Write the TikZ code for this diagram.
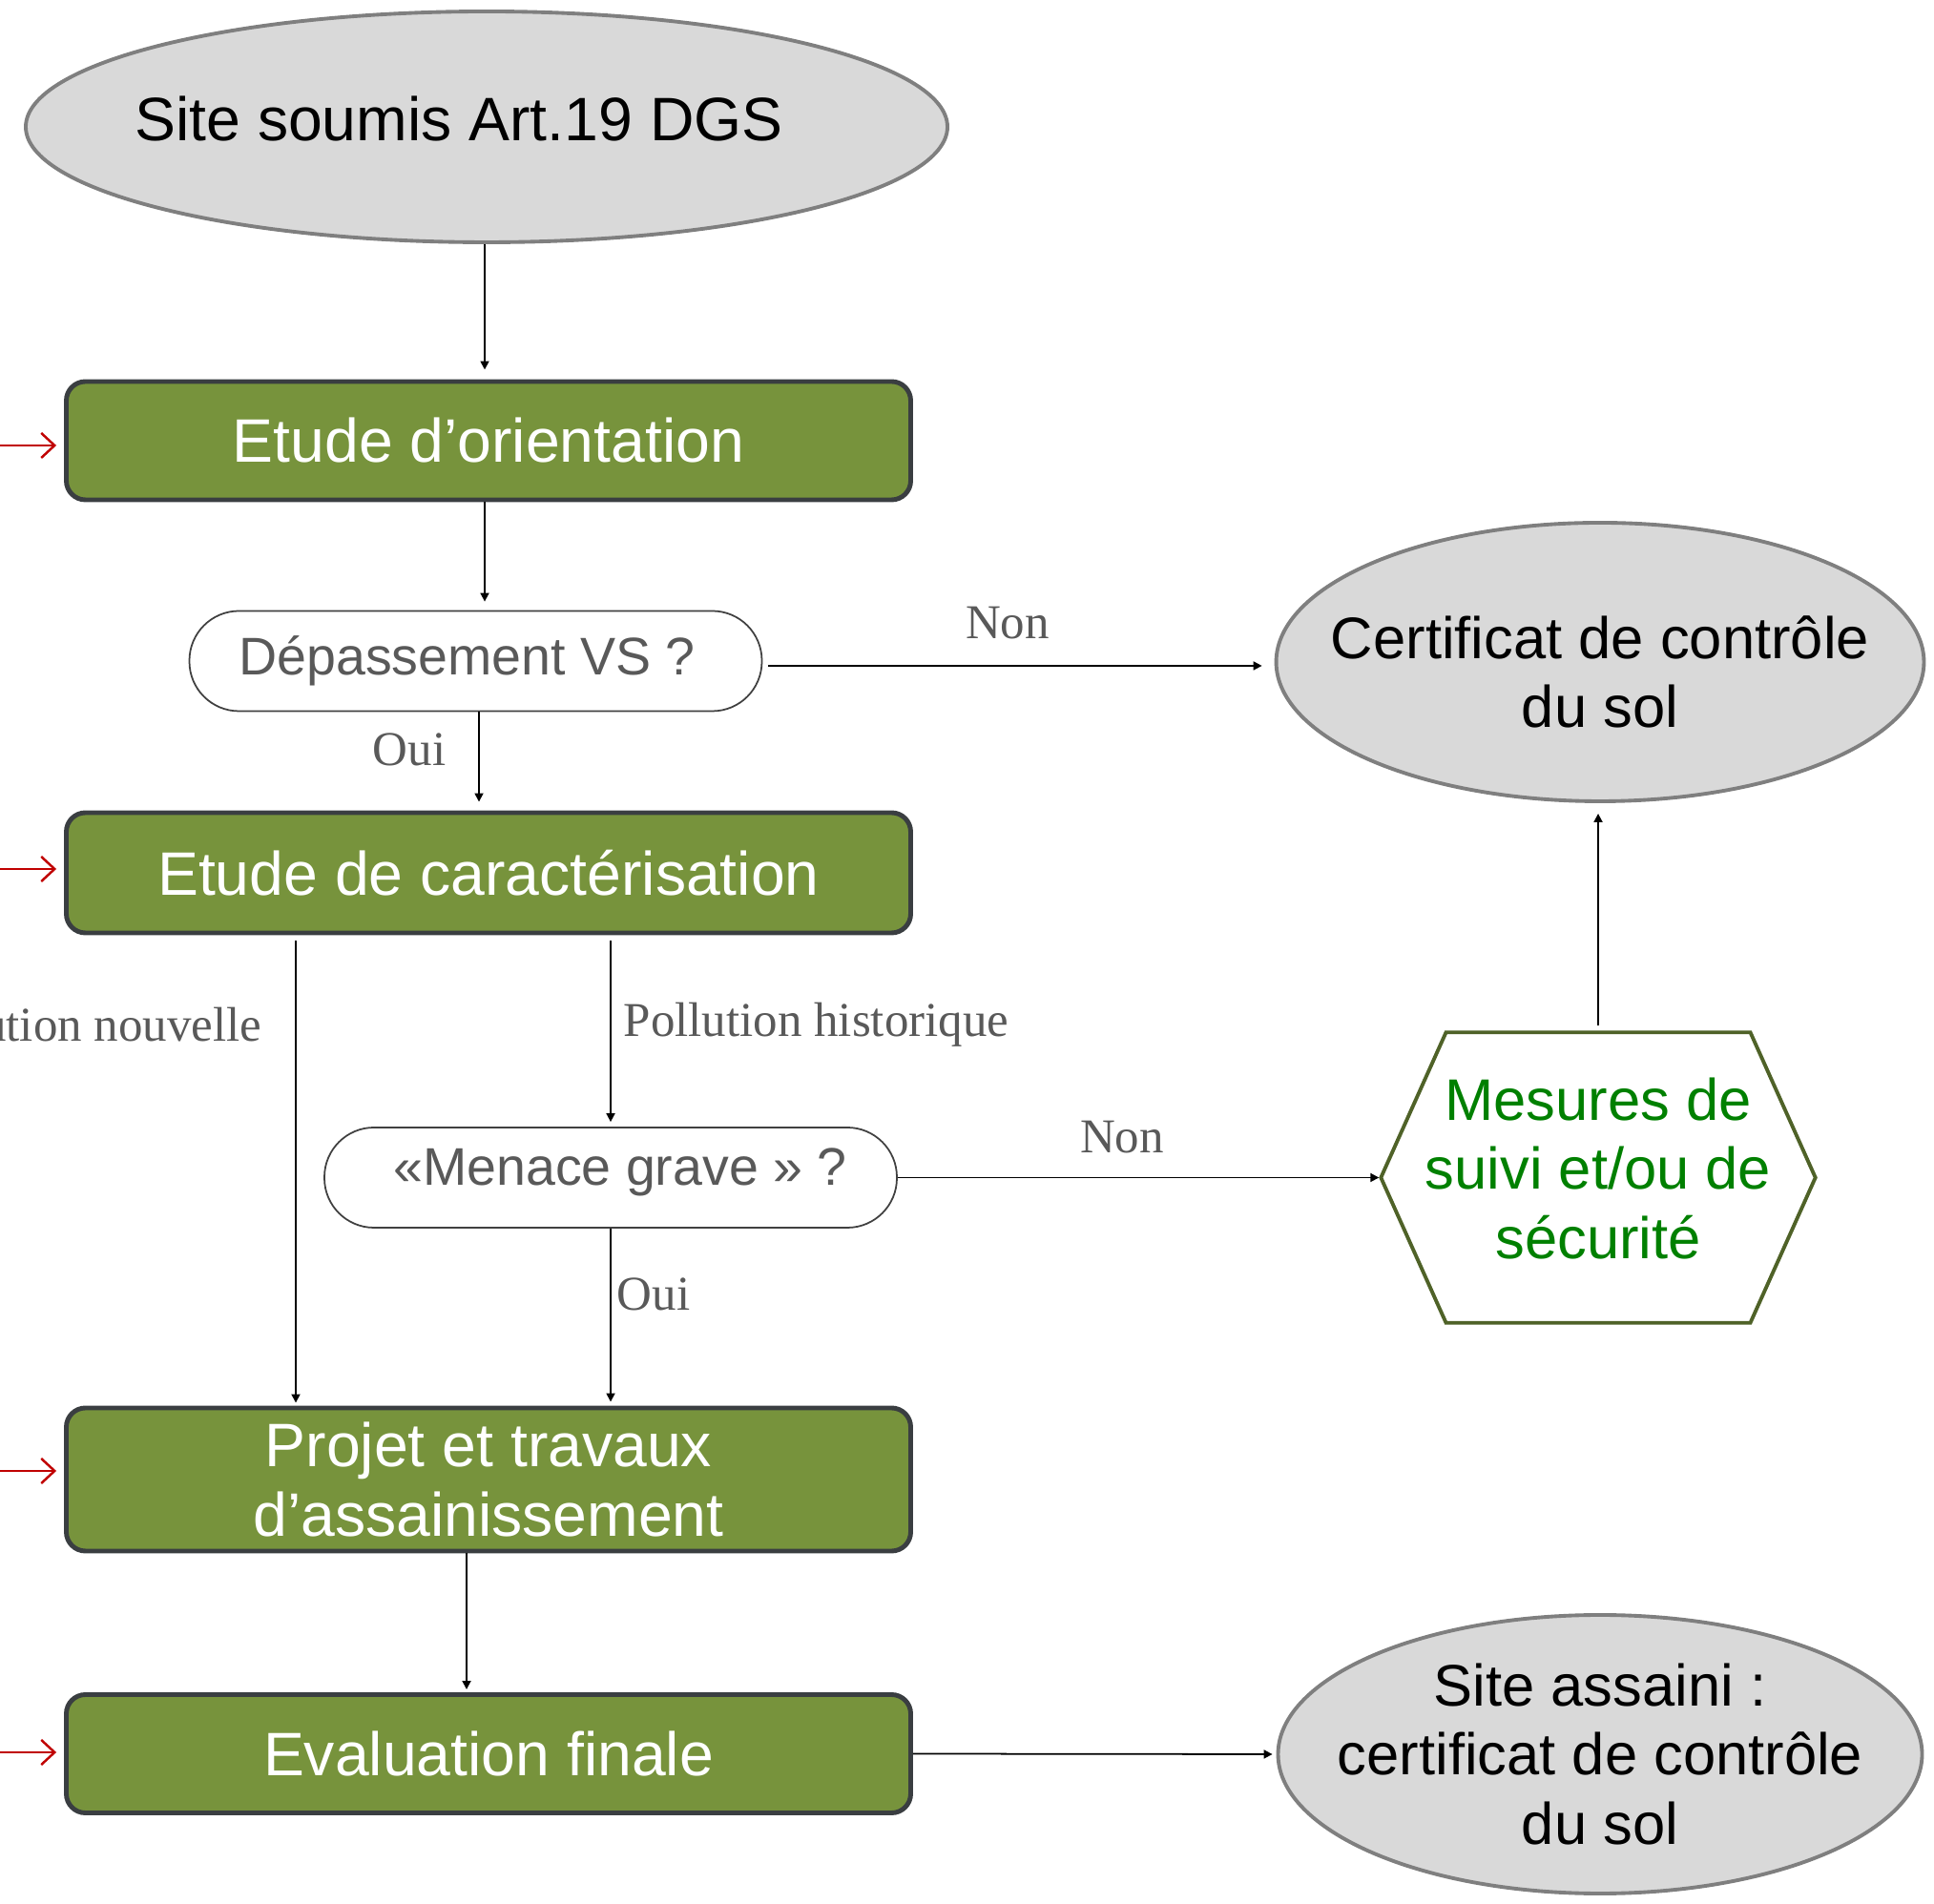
\documentclass[tikz,border=0pt]{standalone}
\usepackage{fontspec}
\setmainfont{Liberation Sans}
\newfontfamily\labelfont{Liberation Serif}
\usetikzlibrary{arrows.meta, calc, shapes.geometric}

\definecolor{boxgreen}{HTML}{77933C}
\definecolor{boxedge}{HTML}{3A3E41}
\definecolor{ovalfill}{HTML}{D9D9D9}
\definecolor{ovaledge}{HTML}{7F7F7F}
\definecolor{hexedge}{HTML}{4F6228}
\definecolor{hextext}{HTML}{008000}
\definecolor{greytext}{HTML}{595959}
\definecolor{inred}{HTML}{C00000}

\begin{document}
\begin{tikzpicture}[
        etape/.style={draw=boxedge, line width=1.4pt, fill=boxgreen, rounded corners=0.2cm,
            minimum width=8.85cm, minimum height=1.24cm, inner sep=0pt,
            text=white, align=center, font=\fontsize{18.3}{20.5}\selectfont},
        oval/.style={ellipse, draw=ovaledge, line width=1.1pt, fill=ovalfill, inner ysep=0pt,
            inner xsep=-0.42cm, align=center, font=\fontsize{17.5}{20.5}\selectfont},
        question/.style={draw=black!75, line width=0.5pt, rounded corners=0.52cm,
            minimum height=1.05cm, inner sep=0pt, text=greytext, font=\fontsize{15.8}{18}\selectfont},
        answer/.style={text=greytext, inner sep=0pt, font=\labelfont\fontsize{14.5}{16}\selectfont},
        pile/.style={line width=0.5pt, -{Triangle[length=0.9mm, width=0.9mm]}},
        entry/.style={inred, line width=0.7pt, -{Straight Barb[length=1.4mm, width=2.6mm]}, shorten >=0.08cm}
    ]
    \useasboundingbox (0,0) rectangle (20.27,19.95);

    \draw (5.10,18.62) node(site)[oval, inner xsep=0pt, minimum width=9.66cm, minimum height=2.42cm,
        font=\fontsize{18.3}{21}\selectfont, text height=13pt, text depth=4.8pt]
        {\hspace*{-0.58cm}Site soumis Art.19 DGS};

    \draw (5.12,15.33) node(eo)[etape]{Etude d’orientation};
    \draw (4.985,13.02) node(dvs)[question, minimum width=6.0cm]{\hspace*{-0.18cm}Dépassement VS ?};
    \draw (5.12,10.80) node(ec)[etape, minimum height=1.26cm]{Etude de caractérisation};
    \draw (6.40,7.605) node(mg)[question, minimum width=6.0cm, text height=11.5pt, text depth=7pt]
        {«Menace grave » ?\hspace*{-0.2cm}};
    \draw (5.12,4.44) node(pt)[etape, minimum height=1.50cm]{Projet et travaux\\d’assainissement};
    \draw (5.12,1.565) node(ef)[etape]{Evaluation finale};

    \draw (16.77,13.01) node(cert)[oval, minimum width=6.75cm, minimum height=2.92cm,
        text height=39.2pt, text depth=0.2pt]
        {Certificat de contrôle\\du sol};
    \draw (16.77,1.56) node(sa)[oval, minimum width=6.75cm, minimum height=2.92cm]
        {Site assaini :\\certificat de contrôle\\du sol};

    %% hexagon
    \draw (16.75,7.605) node(mes)[minimum width=4.54cm, minimum height=3.03cm, inner sep=0pt,
        text=hextext, align=center, font=\fontsize{17.5}{20.6}\selectfont,
        text height=54pt, text depth=5.9pt]
        {Mesures de\\suivi et/ou de\\sécurité};
    \draw[hexedge, line width=1.1pt] (mes.west) -- ([xshift=-1.595cm]mes.north)
        -- ([xshift=1.595cm]mes.north) -- (mes.east)
        -- ([xshift=1.595cm]mes.south) -- ([xshift=-1.595cm]mes.south) -- cycle;

    \draw[pile, shorten >=0.1cm] ([xshift=-0.02cm]site.south) -- ([xshift=-0.04cm]eo.north);
    \draw[pile, shorten >=0.09cm] ([xshift=-0.04cm]eo.south) -- ([xshift=-0.04cm]eo.south |- dvs.north);
    \draw[pile, shorten <=0.06cm, shorten >=0.13cm] ([yshift=-0.05cm]dvs.east) -- ([yshift=-0.05cm]dvs.east -| cert.west);
    \draw[pile, shorten >=0.09cm] ([xshift=0.035cm]dvs.south) -- ([xshift=0.035cm]dvs.south |- ec.north);
    \draw[pile, shorten <=0.06cm, shorten >=0.03cm] ([xshift=-2.02cm]ec.south) -- ([xshift=-2.02cm]pt.north);
    \draw[pile, shorten <=0.06cm, shorten >=0.05cm] (ec.south -| mg.north) -- (mg.north);
    \draw[pile, shorten >=0.02cm] (mg.east) -- (mes.west);
    \draw[pile, shorten <=0.07cm, shorten >=0.11cm] (mes.north) -- (mes.north |- cert.south);
    \draw[pile, shorten >=0.04cm] (mg.south) -- (mg.south |- pt.north);
    \draw[pile, shorten >=0.03cm] ([xshift=-0.23cm]pt.south) -- ([xshift=-0.23cm]ef.north);
    \draw[pile, shorten >=0.04cm] (ef.east) -- (sa.west);

    \draw (10.56,13.42) node(non1)[answer]{Non};
    \draw (4.29,12.09) node(oui1)[answer]{Oui};
    \draw (2.75,9.21) node(pn)[answer, anchor=east]{Pollution nouvelle};
    \draw (6.53,9.21) node(ph)[answer, anchor=west]{Pollution historique};
    \draw (11.76,8.03) node(non2)[answer]{Non};
    \draw (6.85,6.38) node(oui2)[answer]{Oui};

    %% entries from the left
    \coordinate (in1) at (-0.4,15.28);
    \coordinate (in2) at (-0.4,10.84);
    \coordinate (in3) at (-0.4,4.53);
    \coordinate (in4) at (-0.4,1.58);
    \draw[entry] (in1) -- (in1 -| eo.west);
    \draw[entry] (in2) -- (in2 -| ec.west);
    \draw[entry] (in3) -- (in3 -| pt.west);
    \draw[entry] (in4) -- (in4 -| ef.west);

\end{tikzpicture}
\end{document}
